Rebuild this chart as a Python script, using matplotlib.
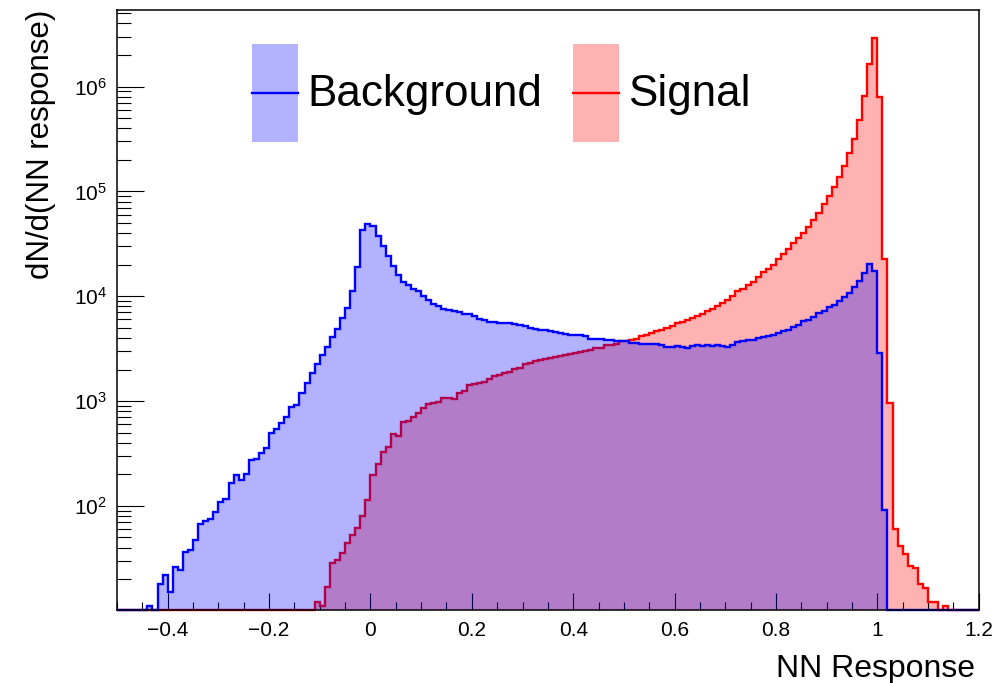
import numpy as np
import matplotlib
matplotlib.use("Agg")
import matplotlib.pyplot as plt
from matplotlib.patches import Rectangle
from matplotlib.lines import Line2D
from matplotlib.ticker import MultipleLocator, LogLocator, NullFormatter, FuncFormatter

# ---------------- data ----------------
bin_low = -0.5
bin_width = 0.01
n_bins = 170

background = [
    0, 0, 0, 0, 0, 0, 11, 0, 18, 22,
    15, 26, 24.5, 36.6, 38, 47, 67, 72, 75, 88,
    108, 116, 167, 198, 175, 202, 275, 280, 318, 355,
    494, 540, 617, 710, 870, 915, 1200, 1480, 1840, 2270,
    2760, 3300, 4040, 4860, 6180, 7700, 11100, 18800, 43100, 49000,
    47100, 37200, 30300, 24400, 19500, 16000, 13800, 12800, 11800, 11300,
    10000, 9130, 8500, 7990, 7550, 7330, 7250, 7000, 6750, 6760,
    6410, 6030, 5870, 5740, 5670, 5550, 5550, 5500, 5470, 5350,
    5150, 4970, 4900, 4790, 4790, 4680, 4570, 4450, 4350, 4290,
    4290, 4230, 4130, 3930, 3900, 3900, 3850, 3790, 3710, 3710,
    3700, 3570, 3570, 3520, 3520, 3520, 3480, 3420, 3310, 3310,
    3360, 3310, 3200, 3360, 3420, 3370, 3440, 3320, 3440, 3370,
    3270, 3440, 3620, 3700, 3790, 3850, 3990, 4080, 4200, 4290,
    4450, 4620, 4790, 5080, 5340, 5750, 5970, 6330, 6910, 7170,
    7880, 8290, 8920, 9800, 10700, 12200, 14000, 16700, 20200, 17300,
    2870, 92, 0, 0, 0, 0, 0, 0, 0, 0,
    0, 0, 0, 0, 0, 0, 0, 0, 0, 0,
]

signal = [
    0, 0, 0, 0, 0, 0, 0, 0, 0, 0,
    0, 0, 0, 0, 0, 0, 0, 0, 0, 0,
    0, 0, 0, 0, 0, 0, 0, 0, 0, 0,
    0, 0, 0, 0, 0, 0, 0, 0, 0, 12,
    11, 17, 28.8, 30.5, 35.9, 44, 53, 61, 80, 114,
    198, 250, 330, 363, 487, 466, 630, 652, 712, 777,
    855, 935, 955, 990, 1080, 1070, 1050, 1200, 1250, 1410,
    1460, 1500, 1520, 1620, 1720, 1780, 1870, 1880, 2020, 2060,
    2270, 2330, 2390, 2480, 2510, 2570, 2630, 2700, 2770, 2830,
    2870, 2970, 3020, 3040, 3180, 3180, 3390, 3440, 3520, 3710,
    3760, 3850, 3930, 4140, 4290, 4450, 4620, 4790, 4970, 5230,
    5550, 5670, 5880, 6190, 6510, 6700, 7170, 7570, 8110, 8600,
    9250, 10100, 11100, 11700, 12700, 13800, 15200, 16900, 18100, 20000,
    22600, 25300, 28300, 32000, 36000, 40000, 45500, 53000, 62000, 75000,
    90000, 110000, 137000, 175000, 230000, 314000, 475000, 806000, 1650000, 2920000,
    800000, 22500, 955, 60, 41.5, 34.7, 27, 25.7, 18, 16.4,
    12.2, 12.2, 0, 11, 0, 0, 0, 0, 0, 0,
]

x_ticks_labels = ["\u22120.4", "\u22120.2", "0", "0.2", "0.4", "0.6", "0.8", "1", "1.2"]
legend_labels = ["Background", "Signal"]
x_label = "NN Response"
y_label = "dN/d(NN response)"

# ---------------- style ----------------
plt.rcParams['font.family'] = ['Liberation Sans', 'DejaVu Sans']
plt.rcParams['mathtext.fontset'] = 'custom'
plt.rcParams['mathtext.rm'] = 'Liberation Sans'
plt.rcParams['mathtext.it'] = 'Liberation Sans:italic'
plt.rcParams['mathtext.bf'] = 'Liberation Sans:bold'

W, H = 996, 683
fig = plt.figure(figsize=(W / 100, H / 100), dpi=100)
ax_l, ax_r, ax_t, ax_b = 117, 978.7, 9.5, 610
ax = fig.add_axes([ax_l / W, 1 - ax_b / H, (ax_r - ax_l) / W, (ax_b - ax_t) / H])

ymin, ymax = 10 ** 1.007, 10 ** 6.735
edges = bin_low + bin_width * np.arange(n_bins + 1)
bkg = np.maximum(np.array(background, float), ymin)
sig = np.maximum(np.array(signal, float), ymin)

blue_fill = (0, 0, 1, 0.30)
red_fill = (1, 0, 0, 0.30)
lw = 1.7

ax.stairs(sig, edges, baseline=ymin, fill=True, color=red_fill, linewidth=0, zorder=1)
ax.stairs(sig, edges, baseline=ymin, color=(1, 0, 0), linewidth=lw, zorder=2, clip_on=False)
ax.stairs(bkg, edges, baseline=ymin, fill=True, color=blue_fill, linewidth=0, zorder=3)
ax.stairs(bkg, edges, baseline=ymin, color=(0, 0, 1), linewidth=lw, zorder=4, clip_on=False)

ax.set_xlim(-0.5, 1.2)
ax.set_yscale('log')
ax.set_ylim(ymin, ymax)

ax.xaxis.set_major_locator(MultipleLocator(0.2))
ax.xaxis.set_minor_locator(MultipleLocator(0.05))
tick_vals = [-0.4, -0.2, 0, 0.2, 0.4, 0.6, 0.8, 1.0, 1.2]
lab_map = {round(v, 2): s for v, s in zip(tick_vals, x_ticks_labels)}
ax.xaxis.set_major_formatter(FuncFormatter(lambda v, p: lab_map.get(round(v, 2), "")))
ax.yaxis.set_major_locator(LogLocator(base=10, numticks=20))
ax.yaxis.set_minor_locator(LogLocator(base=10, subs=np.arange(2, 10), numticks=20))
ax.yaxis.set_minor_formatter(NullFormatter())

ax.tick_params(axis='both', which='both', direction='in', top=False, right=False,
               colors='black', width=0.8, labelsize=15)
ax.tick_params(axis='y', which='major', length=19.4, pad=7)
ax.tick_params(axis='y', which='minor', length=9.9)
ax.tick_params(axis='x', which='major', length=12, pad=8)
ax.tick_params(axis='x', which='minor', length=6)
for s in ax.spines.values():
    s.set_linewidth(1.1)
    s.set_color('black')
    s.set_zorder(6)

fig.text(975 / W, 1 - 677 / H, x_label, ha='right', va='baseline', fontsize=23)
fig.text(41 / W, 1 - 10 / H, y_label, ha='center', va='top', rotation=90, fontsize=22.5)

# ---------------- legend ----------------
def legend_entry(x0, label, fill, line_col):
    bx, by, bw, bh = x0, 44, 46, 98
    fig.patches.append(Rectangle((bx / W, 1 - (by + bh) / H), bw / W, bh / H,
                                 transform=fig.transFigure, facecolor=fill,
                                 edgecolor='none'))
    fig.lines.append(Line2D([bx / W, (bx + bw) / W], [1 - (by + bh / 2) / H] * 2,
                            transform=fig.transFigure, color=line_col, linewidth=lw))
    fig.text((bx + bw + 9) / W, 1 - 106 / H, label, ha='left', va='baseline', fontsize=31.7)

legend_entry(252, legend_labels[0], blue_fill, (0, 0, 1))
legend_entry(573, legend_labels[1], red_fill, (1, 0, 0))

fig.savefig("out.png", dpi=100)
